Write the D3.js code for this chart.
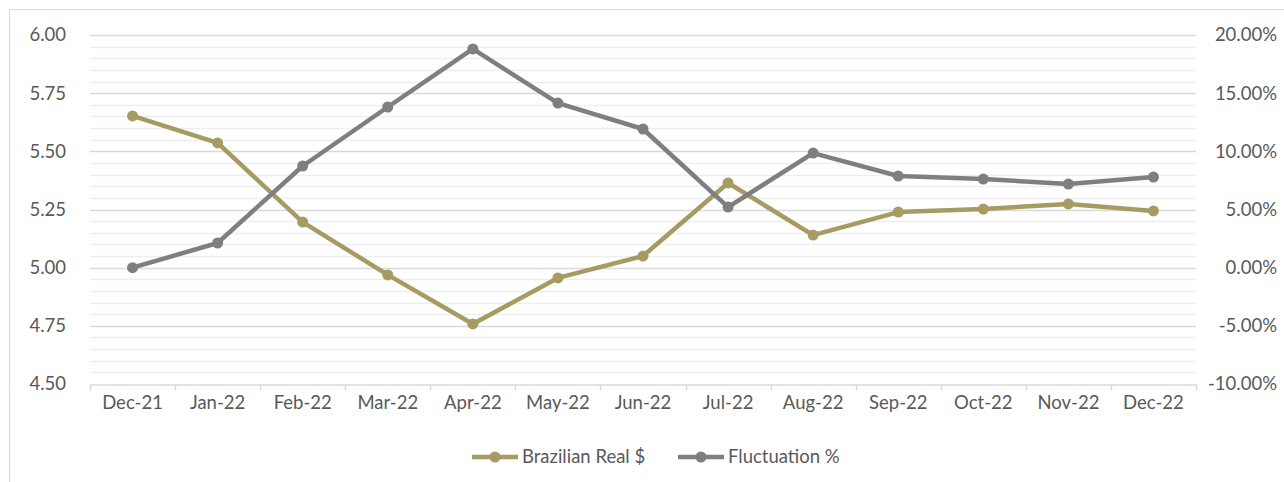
<!DOCTYPE html>
<html>
<head>
<meta charset="utf-8">
<script src="https://cdn.jsdelivr.net/npm/d3@7"></script>
<style>
  body { margin: 0; background: #fff; }
  svg text { font-family: Lato, "Open Sans", sans-serif; fill: #595959; }
</style>
</head>
<body>
<svg width="1284" height="482"></svg>
<script>
const months = ['Dec-21', 'Jan-22', 'Feb-22', 'Mar-22', 'Apr-22', 'May-22', 'Jun-22',
  'Jul-22', 'Aug-22', 'Sep-22', 'Oct-22', 'Nov-22', 'Dec-22'];
const realValues = [5.652, 5.536, 5.196, 4.969, 4.758, 4.956, 5.050, 5.364, 5.140, 5.239, 5.252, 5.274, 5.244];
const fluctValues = [0.0, 2.12, 8.74, 13.81, 18.8, 14.15, 11.92, 5.21, 9.85, 7.88, 7.62, 7.19, 7.79];
const leftTicks = [4.50, 4.75, 5.00, 5.25, 5.50, 5.75, 6.00];
const rightTicks = [-10, -5, 0, 5, 10, 15, 20];
const seriesNames = ['Brazilian Real $', 'Fluctuation %'];

const gold = '#a69b62';
const grey = '#7f7f7f';
const fs = 18.5;
const svg = d3.select('svg');

// frame
svg.append('rect')
  .attr('x', 9.5).attr('y', 9.5)
  .attr('width', 1300).attr('height', 500)
  .attr('fill', 'none').attr('stroke', '#d9d9d9');

const plotL = 90, plotR = 1196, plotT = 35, plotB = 384;

const x = d3.scaleBand().domain(months).range([plotL, plotR]);
const yL = d3.scaleLinear().domain([4.5, 6.0]).range([plotB, plotT]);
const yR = d3.scaleLinear().domain([-10, 20]).range([plotB, plotT]);

// minor gridlines
const minor = d3.range(4.5, 6.0001, 0.05).filter(v => Math.abs(Math.round(v * 4) - v * 4) > 1e-6);
svg.append('g').selectAll('line').data(minor).join('line')
  .attr('x1', plotL).attr('x2', plotR)
  .attr('y1', d => Math.round(yL(d)) + 0.5).attr('y2', d => Math.round(yL(d)) + 0.5)
  .attr('stroke', '#eeeeee').attr('stroke-width', 1.5);

// major gridlines
svg.append('g').selectAll('line').data(leftTicks.slice(1)).join('line')
  .attr('x1', plotL).attr('x2', plotR)
  .attr('y1', d => Math.round(yL(d)) + 0.5).attr('y2', d => Math.round(yL(d)) + 0.5)
  .attr('stroke', '#d9d9d9').attr('stroke-width', 1.5);

// left axis labels
svg.append('g').selectAll('text').data(leftTicks).join('text')
  .attr('x', 66).attr('y', d => yL(d)).attr('dy', '0.35em')
  .attr('text-anchor', 'end').attr('font-size', fs)
  .text(d => d3.format('.2f')(d));

// right axis labels (hyphen minus, like the original)
svg.append('g').selectAll('text').data(rightTicks).join('text')
  .attr('x', 1277).attr('y', d => yR(d)).attr('dy', '0.35em')
  .attr('text-anchor', 'end').attr('font-size', fs)
  .text(d => d3.format('.2f')(d).replace('\u2212', '-') + '%');

// x axis
const xAxis = d3.axisBottom(x).tickSize(0).tickPadding(11);
const gx = svg.append('g').attr('transform', `translate(0,${plotB + 0.5})`).call(xAxis);
gx.select('.domain').attr('stroke', '#d9d9d9').attr('stroke-width', 1.5);
gx.selectAll('text').attr('font-size', fs).attr('font-family', 'Lato, "Open Sans", sans-serif').attr('fill', '#595959');
const bounds = months.map(m => x(m)).concat([plotR]);
gx.selectAll('.bound').data(bounds).join('line')
  .attr('class', 'bound')
  .attr('x1', d => Math.round(d) + 0.5).attr('x2', d => Math.round(d) + 0.5)
  .attr('y1', 0).attr('y2', 6)
  .attr('stroke', '#d9d9d9').attr('stroke-width', 1.5);

const cx = m => x(m) + x.bandwidth() / 2;

function drawSeries(vals, scale, color) {
  const line = d3.line().x((d, i) => cx(months[i])).y(d => scale(d));
  svg.append('path').datum(vals)
    .attr('d', line).attr('fill', 'none')
    .attr('stroke', color).attr('stroke-width', 4.5)
    .attr('stroke-linejoin', 'round');
  svg.append('g').selectAll('circle').data(vals).join('circle')
    .attr('cx', (d, i) => cx(months[i])).attr('cy', d => scale(d))
    .attr('r', 5.5).attr('fill', color);
}
drawSeries(realValues, yL, gold);
drawSeries(fluctValues, yR, grey);

// legend
const legend = [
  { name: seriesNames[0], color: gold, x0: 472 },
  { name: seriesNames[1], color: grey, x0: 678 }
];
const lg = svg.append('g').selectAll('g').data(legend).join('g')
  .attr('transform', d => `translate(${d.x0},457)`);
lg.append('line').attr('x1', 0).attr('x2', 46).attr('y1', 0).attr('y2', 0)
  .attr('stroke', d => d.color).attr('stroke-width', 4.5);
lg.append('circle').attr('cx', 23).attr('r', 5.5).attr('fill', d => d.color);
lg.append('text').attr('x', 50).attr('dy', '0.35em').attr('font-size', fs)
  .text(d => d.name);
</script>
</body>
</html>
